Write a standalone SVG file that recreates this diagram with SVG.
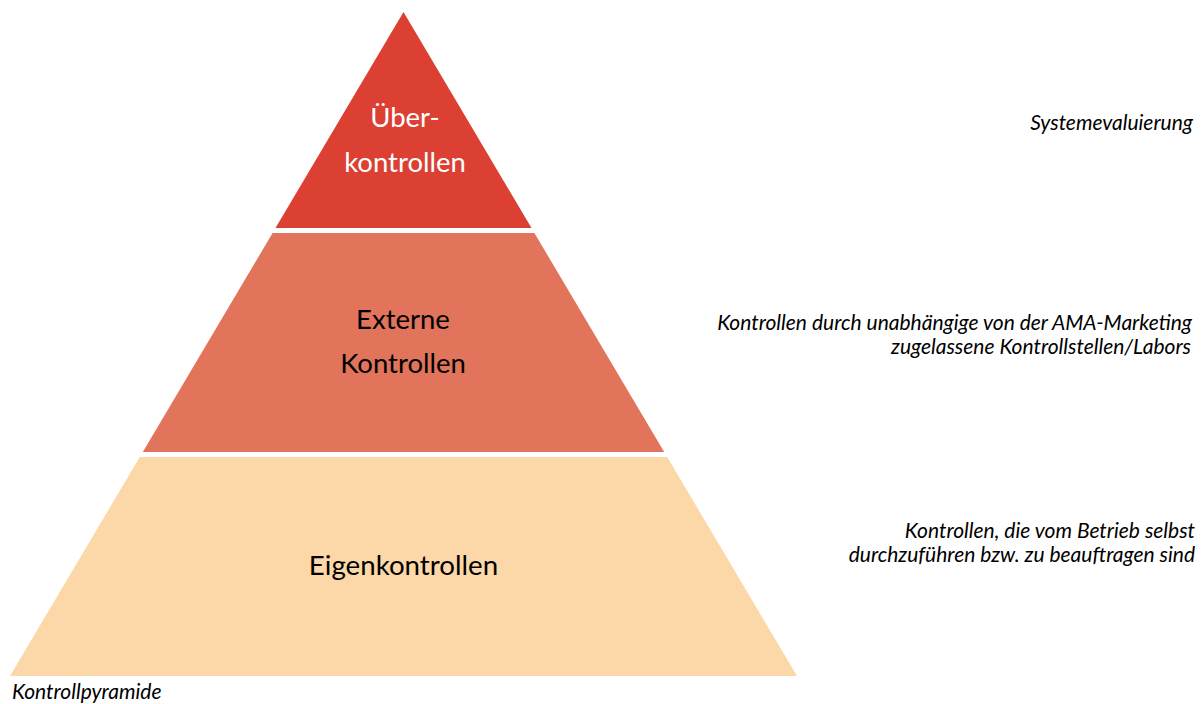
<svg xmlns="http://www.w3.org/2000/svg" width="1204" height="704" viewBox="0 0 1204 704">
<style>
.lbl{font-family:Lato,"Open Sans","Liberation Sans",sans-serif;text-anchor:middle;}
.note{font-family:Lato,"Open Sans","Liberation Sans",sans-serif;font-style:italic;font-size:21px;fill:#000;text-anchor:end;}
</style>
<rect width="1204" height="704" fill="#fff"/>
<g id="top">
<polygon points="403.5,12 531.5,228 275.5,228" fill="#DB4033"/>
<text class="lbl" x="405" y="127" font-size="27.5" fill="#fff">Über-</text>
<text class="lbl" x="405" y="172" font-size="27.5" fill="#fff">kontrollen</text>
</g>
<g id="middle">
<polygon points="272.6,233 534.4,233 664.2,452 142.8,452" fill="#E1745B"/>
<text class="lbl" x="403" y="329" font-size="27.5" fill="#000">Externe</text>
<text class="lbl" x="403" y="373" font-size="27.5" fill="#000">Kontrollen</text>
</g>
<g id="bottom">
<polygon points="139.8,457 667.2,457 797,676 10,676" fill="#FCD8A8"/>
<text class="lbl" x="403.5" y="575" font-size="27.7" fill="#000">Eigenkontrollen</text>
</g>
<g id="notes">
<text class="note" x="1193" y="130">Systemevaluierung</text>
<text class="note" x="1192" y="330">Kontrollen durch unabhängige von der AMA-Marketing</text>
<text class="note" x="1191" y="354">zugelassene Kontrollstellen/Labors</text>
<text class="note" x="1195" y="538">Kontrollen, die vom Betrieb selbst</text>
<text class="note" x="1195" y="562">durchzuführen bzw. zu beauftragen sind</text>
<text class="note" x="12" y="699" style="text-anchor:start" font-size="20">Kontrollpyramide</text>
</g>
</svg>
